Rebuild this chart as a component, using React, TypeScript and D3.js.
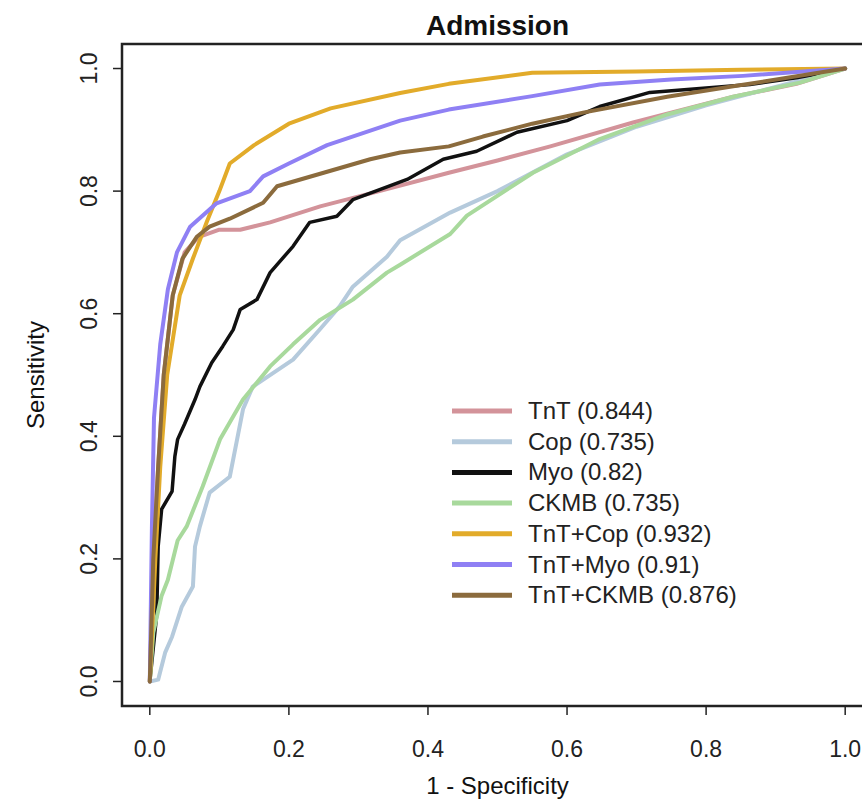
import React from 'react';
import * as d3 from 'd3';

// ROC curves: [1 - specificity, sensitivity]
const tnt: [number, number][] = [
  [0, 0], [0.005, 0.2], [0.012, 0.35], [0.02, 0.5], [0.033, 0.63], [0.05, 0.7],
  [0.07, 0.725], [0.1, 0.737], [0.13, 0.737], [0.173, 0.749], [0.245, 0.775],
  [0.33, 0.8], [0.43, 0.83], [0.5, 0.85], [0.576, 0.873], [0.695, 0.912],
  [0.839, 0.954], [0.93, 0.975], [1, 1],
];
const cop: [number, number][] = [
  [0, 0], [0.012, 0.003], [0.022, 0.047], [0.032, 0.073], [0.046, 0.122],
  [0.062, 0.155], [0.065, 0.22], [0.072, 0.253], [0.086, 0.308], [0.115, 0.334],
  [0.134, 0.444], [0.148, 0.481], [0.206, 0.525], [0.245, 0.575], [0.273, 0.612],
  [0.292, 0.644], [0.341, 0.693], [0.36, 0.72], [0.432, 0.765], [0.5, 0.8],
  [0.6, 0.86], [0.7, 0.905], [0.8, 0.94], [0.9, 0.97], [1, 1],
];
const myo: [number, number][] = [
  [0, 0], [0.01, 0.11], [0.012, 0.22], [0.017, 0.281], [0.032, 0.31],
  [0.036, 0.367], [0.04, 0.395], [0.05, 0.42], [0.065, 0.46], [0.072, 0.481],
  [0.089, 0.52], [0.105, 0.547], [0.12, 0.574], [0.13, 0.607], [0.154, 0.623],
  [0.173, 0.667], [0.206, 0.71], [0.23, 0.749], [0.269, 0.759], [0.292, 0.786],
  [0.37, 0.819], [0.422, 0.852], [0.47, 0.865], [0.528, 0.896], [0.6, 0.915],
  [0.647, 0.938], [0.719, 0.961], [0.863, 0.974], [0.93, 0.985], [1, 1],
];
const ckmb: [number, number][] = [
  [0, 0], [0.005, 0.08], [0.017, 0.14], [0.026, 0.166], [0.04, 0.23],
  [0.053, 0.253], [0.076, 0.318], [0.101, 0.395], [0.134, 0.46], [0.173, 0.514],
  [0.206, 0.55], [0.245, 0.59], [0.292, 0.623], [0.341, 0.667], [0.36, 0.68],
  [0.432, 0.73], [0.456, 0.76], [0.551, 0.83], [0.647, 0.885], [0.744, 0.925],
  [0.839, 0.954], [0.935, 0.977], [1, 1],
];
const tntCop: [number, number][] = [
  [0, 0], [0.008, 0.2], [0.015, 0.35], [0.025, 0.5], [0.043, 0.63], [0.062, 0.69],
  [0.082, 0.75], [0.1, 0.8], [0.115, 0.845], [0.15, 0.875], [0.2, 0.91],
  [0.26, 0.935], [0.36, 0.96], [0.43, 0.975], [0.55, 0.993], [0.7, 0.995],
  [0.85, 0.998], [1, 1],
];
const tntMyo: [number, number][] = [
  [0, 0], [0.003, 0.25], [0.006, 0.43], [0.015, 0.55], [0.026, 0.64], [0.039, 0.7],
  [0.058, 0.742], [0.096, 0.78], [0.144, 0.8], [0.163, 0.824], [0.2, 0.845],
  [0.255, 0.875], [0.36, 0.915], [0.43, 0.933], [0.55, 0.955], [0.647, 0.974],
  [0.75, 0.982], [0.853, 0.988], [1, 1],
];
const tntCkmb: [number, number][] = [
  [0, 0], [0.005, 0.2], [0.012, 0.35], [0.02, 0.5], [0.033, 0.63], [0.047, 0.69],
  [0.068, 0.726], [0.086, 0.742], [0.115, 0.755], [0.163, 0.781], [0.183, 0.808],
  [0.25, 0.83], [0.317, 0.852], [0.36, 0.863], [0.43, 0.873], [0.479, 0.889],
  [0.55, 0.91], [0.623, 0.928], [0.744, 0.954], [0.839, 0.971], [1, 1],
];

const seriesNames = ['TnT', 'Cop', 'Myo', 'CKMB', 'TnT+Cop', 'TnT+Myo', 'TnT+CKMB'];
const aucLabels = ['0.844', '0.735', '0.82', '0.735', '0.932', '0.91', '0.876'];
const seriesData = [tnt, cop, myo, ckmb, tntCop, tntMyo, tntCkmb];
const seriesColors = ['#d3939a', '#b5cadc', '#111111', '#a8d99c', '#e2ab2a', '#8f80f4', '#8b6b3d'];
const ticks = [0, 0.2, 0.4, 0.6, 0.8, 1.0];

const W = 862;
const H = 806;
const font = '"Liberation Sans", Arial, sans-serif';

export default function App() {
  // R-style 4% padding around [0, 1]
  const x = d3.scaleLinear().domain([-0.04, 1.04]).range([122, 873]);
  const y = d3.scaleLinear().domain([-0.04, 1.04]).range([706, 44]);

  const line = d3.line<[number, number]>()
    .x(d => x(d[0]))
    .y(d => y(d[1]));

  const axisColor = '#222';
  const legendX = 452;
  const legendY = 411;
  const legendStep = 30.7;

  return (
    <svg width={W} height={H} style={{ position: 'absolute', left: 0, top: 0, background: '#fff' }}>
      <text x={(x.range()[0] + x.range()[1]) / 2} y={35} textAnchor="middle"
        fontFamily={font} fontSize={28} fontWeight="bold" fill="#111">Admission</text>

      {/* curves */}
      <g fill="none" strokeLinejoin="round" strokeLinecap="round">
        {seriesData.map((d, i) => (
          <path key={seriesNames[i]} d={line(d) || ''} stroke={seriesColors[i]}
            strokeWidth={i === 2 ? 3.5 : 4} />
        ))}
      </g>

      {/* box */}
      <rect x={x.range()[0]} y={y.range()[1]} width={x.range()[1] - x.range()[0]}
        height={y.range()[0] - y.range()[1]} fill="none" stroke={axisColor} strokeWidth={2.5} />

      {/* x axis */}
      <g>
        {ticks.map(t => (
          <g key={'x' + t}>
            <line x1={x(t)} x2={x(t)} y1={y.range()[0]} y2={y.range()[0] + 9} stroke={axisColor} strokeWidth={1.5} />
            <text x={x(t)} y={757} textAnchor="middle" fontFamily={font} fontSize={23} fill="#222">
              {t.toFixed(1)}
            </text>
          </g>
        ))}
        <text x={(x.range()[0] + x.range()[1]) / 2} y={794} textAnchor="middle"
          fontFamily={font} fontSize={24} fill="#111">1 - Specificity</text>
      </g>

      {/* y axis */}
      <g>
        {ticks.map(t => (
          <g key={'y' + t}>
            <line x1={x.range()[0] - 9} x2={x.range()[0]} y1={y(t)} y2={y(t)} stroke={axisColor} strokeWidth={1.5} />
            <text transform={`translate(97, ${y(t)}) rotate(-90)`} textAnchor="middle"
              fontFamily={font} fontSize={23} fill="#222">{t.toFixed(1)}</text>
          </g>
        ))}
        <text transform={`translate(44, ${(y.range()[0] + y.range()[1]) / 2}) rotate(-90)`} textAnchor="middle"
          fontFamily={font} fontSize={24} fill="#111">Sensitivity</text>
      </g>

      {/* legend */}
      <g>
        {seriesNames.map((name, i) => (
          <g key={'lg' + name} transform={`translate(0, ${legendY + i * legendStep})`}>
            <line x1={legendX} x2={legendX + 60} y1={0} y2={0} stroke={seriesColors[i]} strokeWidth={5} />
            <text x={legendX + 76} y={8} fontFamily={font} fontSize={24} fill="#222">
              {`${name} (${aucLabels[i]})`}
            </text>
          </g>
        ))}
      </g>
    </svg>
  );
}
